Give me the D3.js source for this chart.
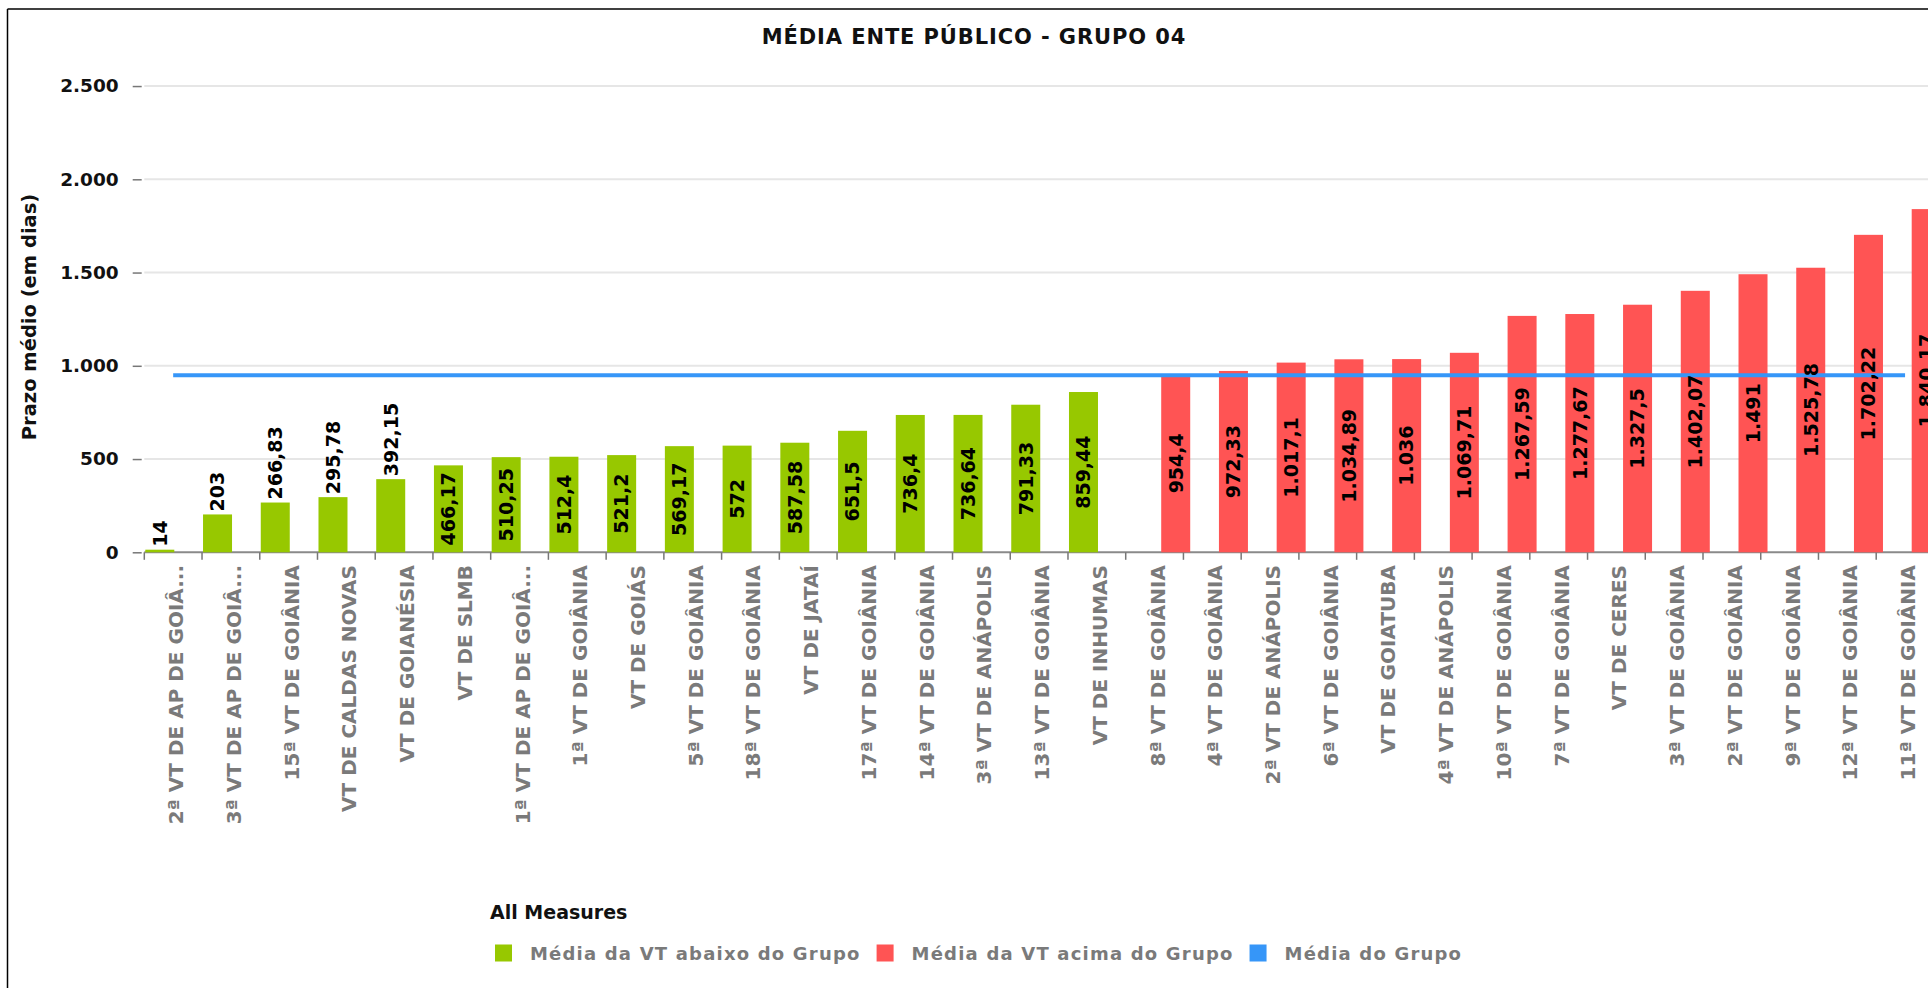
<!DOCTYPE html>
<html>
<head>
<meta charset="utf-8">
<script src="https://cdn.jsdelivr.net/npm/d3@7"></script>
<style>
  html, body { margin: 0; padding: 0; background: #fff; overflow: hidden; }
  svg { display: block; }
  text { font-family: "DejaVu Sans", sans-serif; font-weight: bold; }
</style>
</head>
<body>
<svg id="chart" width="1928" height="988"></svg>
<script>
// ---- DATA ----
const categories = [
  "2ª VT DE AP DE GOIÂ...", "3ª VT DE AP DE GOIÂ...", "15ª VT DE GOIÂNIA", "VT DE CALDAS NOVAS",
  "VT DE GOIANÉSIA", "VT DE SLMB", "1ª VT DE AP DE GOIÂ...", "1ª VT DE GOIÂNIA", "VT DE GOIÁS",
  "5ª VT DE GOIÂNIA", "18ª VT DE GOIÂNIA", "VT DE JATAÍ", "17ª VT DE GOIÂNIA", "14ª VT DE GOIÂNIA",
  "3ª VT DE ANÁPOLIS", "13ª VT DE GOIÂNIA", "VT DE INHUMAS",
  "8ª VT DE GOIÂNIA", "4ª VT DE GOIÂNIA", "2ª VT DE ANÁPOLIS", "6ª VT DE GOIÂNIA", "VT DE GOIATUBA",
  "4ª VT DE ANÁPOLIS", "10ª VT DE GOIÂNIA", "7ª VT DE GOIÂNIA", "VT DE CERES", "3ª VT DE GOIÂNIA",
  "2ª VT DE GOIÂNIA", "9ª VT DE GOIÂNIA", "12ª VT DE GOIÂNIA", "11ª VT DE GOIÂNIA"
];
const abaixoValues = [14, 203, 266.83, 295.78, 392.15, 466.17, 510.25, 512.4, 521.2, 569.17, 572, 587.58,
  651.5, 736.4, 736.64, 791.33, 859.44,
  null, null, null, null, null, null, null, null, null, null, null, null, null, null];
const acimaValues = [null, null, null, null, null, null, null, null, null, null, null, null, null, null, null, null, null,
  954.4, 972.33, 1017.1, 1034.89, 1036, 1069.71, 1267.59, 1277.67, 1327.5, 1402.07, 1491, 1525.78, 1702.22, 1840.17];
const mediaGrupo = categories.map(() => 950);
const yTicks = [0, 500, 1000, 1500, 2000, 2500];
const seriesNames = ["Média da VT abaixo do Grupo", "Média da VT acima do Grupo", "Média do Grupo"];
const seriesColors = ["#97c800", "#ff5454", "#3696f8"];
const title = "MÉDIA ENTE PÚBLICO - GRUPO 04";
const yTitle = "Prazo médio (em dias)";
const legendTitle = "All Measures";

// ---- LAYOUT ----
const svg = d3.select("#chart");
const W = 1928, H = 988;
const x0 = 144.3, step = 57.73;
const x = d3.scaleBand().domain(categories).range([x0, x0 + step * categories.length]).paddingInner(0).paddingOuter(0);
const y = d3.scaleLinear().domain([0, 2500]).range([552.3, 86.05]);
const fmtNum = v => {
  const parts = String(v).split(".");
  const intPart = parts[0].replace(/\B(?=(\d{3})+(?!\d))/g, ".");
  return parts.length > 1 ? intPart + "," + parts[1] : intPart;
};

// frame
svg.append("line").attr("x1", 7.5).attr("x2", W).attr("y1", 9).attr("y2", 9).attr("stroke", "#000").attr("stroke-width", 1.5);
svg.append("line").attr("x1", 7.5).attr("x2", 7.5).attr("y1", 9).attr("y2", H).attr("stroke", "#000").attr("stroke-width", 1.5);

// title
svg.append("text").attr("x", 974).attr("y", 44).attr("text-anchor", "middle")
  .style("font-size", "21px").style("letter-spacing", "0.9px").attr("fill", "#111").text(title);

// gridlines
svg.append("g").selectAll("line").data(yTicks.filter(d => d > 0)).join("line")
  .attr("x1", x0).attr("x2", W).attr("y1", d => y(d)).attr("y2", d => y(d))
  .attr("stroke", "#e6e6e6").attr("stroke-width", 2);

// y axis
const yAxis = d3.axisLeft(y).tickValues(yTicks).tickFormat(fmtNum).tickSize(9).tickPadding(14);
const gy = svg.append("g").attr("transform", `translate(${x0 - 2.6},0)`).call(yAxis);
gy.select(".domain").remove();
gy.selectAll(".tick line").attr("stroke", "#777").attr("stroke-width", 1.5);
gy.selectAll(".tick text").attr("fill", "#111").style("font-size", "18.5px").style("font-family", "DejaVu Sans").style("font-weight", "bold");

svg.append("text").attr("transform", `translate(36,317) rotate(-90)`).attr("text-anchor", "middle")
  .style("font-size", "19.5px").attr("fill", "#111").text(yTitle);

// x axis baseline + ticks at band boundaries
svg.append("line").attr("x1", x0).attr("x2", W).attr("y1", y(0)).attr("y2", y(0)).attr("stroke", "#8a8a8a").attr("stroke-width", 2);
const bounds = categories.map(c => x(c)).concat([x(categories[categories.length - 1]) + x.bandwidth()]);
svg.append("g").selectAll("line").data(bounds).join("line")
  .attr("x1", d => d).attr("x2", d => d).attr("y1", y(0)).attr("y2", y(0) + 7.5)
  .attr("stroke", "#777").attr("stroke-width", 1.5);

// x labels
svg.append("g").selectAll("text").data(categories).join("text")
  .attr("transform", d => `translate(${x(d) + x.bandwidth() / 2 + 10},565) rotate(-90)`)
  .attr("text-anchor", "end").style("font-size", "20px").attr("fill", "#7a7a7a").text(d => d);

// bars
const barW = 29;
const green = categories.map((c, i) => ({ c, v: abaixoValues[i] })).filter(d => d.v != null);
const red = categories.map((c, i) => ({ c, v: acimaValues[i] })).filter(d => d.v != null);
const gBars = svg.append("g");
gBars.selectAll("rect.g").data(green).join("rect").attr("class", "g")
  .attr("x", d => x(d.c) + 1).attr("width", barW)
  .attr("y", d => y(d.v)).attr("height", d => y(0) - y(d.v)).attr("fill", seriesColors[0]);
gBars.selectAll("rect.r").data(red).join("rect").attr("class", "r")
  .attr("x", d => x(d.c) + 35.5).attr("width", barW)
  .attr("y", d => y(d.v)).attr("height", d => y(0) - y(d.v)).attr("fill", seriesColors[1]);

// blue line
const line = d3.line().x((d, i) => x(categories[i]) + x.bandwidth() / 2).y(d => y(d));
svg.append("path").datum(mediaGrupo).attr("d", line).attr("fill", "none")
  .attr("stroke", seriesColors[2]).attr("stroke-width", 4);

// value labels
const labelSize = 19;
function addLabels(data, offset) {
  const g = svg.append("g");
  g.selectAll("text").data(data).join("text")
    .style("font-size", labelSize + "px").attr("fill", "#000").text(d => fmtNum(d.v))
    .each(function (d) {
      const t = d3.select(this);
      const len = this.getComputedTextLength();
      const cx = x(d.c) + offset + barW / 2 + labelSize * 0.36;
      const top = y(d.v), bot = y(0);
      if (bot - top >= len + 8) {
        t.attr("text-anchor", "middle").attr("transform", `translate(${cx},${(top + bot) / 2}) rotate(-90)`);
      } else {
        t.attr("text-anchor", "start").attr("transform", `translate(${cx},${top - 3}) rotate(-90)`);
      }
    });
}
addLabels(green, 1);
addLabels(red, 35.5);

// legend
svg.append("text").attr("x", 490).attr("y", 919).style("font-size", "19px").attr("fill", "#111").text(legendTitle);
let lx = 495;
seriesNames.forEach((name, i) => {
  svg.append("rect").attr("x", lx).attr("y", 944.5).attr("width", 17).attr("height", 17).attr("fill", seriesColors[i]);
  const t = svg.append("text").attr("x", lx + 35).attr("y", 960).style("font-size", "18px")
    .style("letter-spacing", "1.2px").attr("fill", "#7a7a7a").text(name);
  lx = lx + 35 + t.node().getComputedTextLength() + 16;
});
</script>
</body>
</html>
